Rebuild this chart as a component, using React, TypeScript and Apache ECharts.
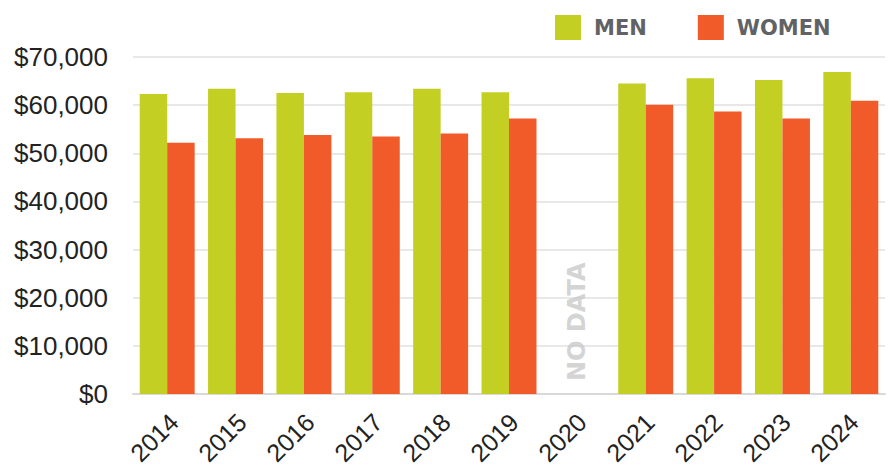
import React, { useEffect, useRef } from "react";
import * as echarts from "echarts";

const years = ["2014", "2015", "2016", "2017", "2018", "2019", "2020", "2021", "2022", "2023", "2024"];
const menValues: (number | null)[] = [62300, 63400, 62500, 62700, 63400, 62700, null, 64500, 65600, 65200, 66900];
const womenValues: (number | null)[] = [52200, 53100, 53800, 53500, 54100, 57200, null, 60100, 58700, 57200, 60900];
const noDataPoint: [string, number][] = [["2020", 15000]];
const noDataText = "NO DATA";

const MEN_COLOR = "#C3CF22";
const WOMEN_COLOR = "#F15A29";

export default function App() {
  const ref = useRef<HTMLDivElement>(null);
  useEffect(() => {
    if (!ref.current) return;
    const chart = echarts.init(ref.current, undefined, { renderer: "svg" });
    const gridCommon = { top: 57, bottom: 74, containLabel: false };
    chart.setOption({
      animation: false,
      backgroundColor: "#ffffff",
      legend: {
        left: 550,
        top: 10,
        itemWidth: 26,
        itemHeight: 25,
        itemGap: 51,
        icon: "rect",
        data: ["MEN", "WOMEN"],
        textStyle: {
          fontFamily: "DejaVu Sans",
          fontWeight: "bold",
          fontSize: 21,
          color: "#616265",
          padding: [0, 0, 0, 8],
        },
      },
      grid: [
        { ...gridCommon, left: 133, right: 3 },
        { ...gridCommon, left: 140, right: -4 },
      ],
      xAxis: [
        {
          type: "category",
          gridIndex: 0,
          data: years,
          axisLine: { show: true, lineStyle: { color: "#d9d9d9", width: 2 } },
          axisTick: { show: false },
          axisLabel: { show: false },
        },
        {
          type: "category",
          gridIndex: 1,
          data: years,
          axisLine: { show: false },
          axisTick: { show: false },
          axisLabel: {
            rotate: 45,
            margin: 28,
            fontFamily: "Liberation Sans, Arial",
            fontSize: 25,
            color: "#222222",
          },
        },
      ],
      yAxis: [
        {
          type: "value",
          gridIndex: 0,
          min: 0,
          max: 70000,
          interval: 10000,
          axisLine: { show: false },
          axisTick: { show: false },
          splitLine: { lineStyle: { color: "#e0e0e0", width: 1.5 } },
          axisLabel: {
            margin: 25,
            fontFamily: "Liberation Sans, Arial",
            fontSize: 26,
            color: "#222222",
            formatter: (v: number) => "$" + v.toLocaleString("en-US"),
          },
        },
        { type: "value", gridIndex: 1, show: false, min: 0, max: 70000 },
      ],
      series: [
        {
          name: "MEN",
          type: "bar",
          xAxisIndex: 0,
          yAxisIndex: 0,
          data: menValues,
          barGap: "0%",
          barCategoryGap: "19.6%",
          itemStyle: { color: MEN_COLOR },
        },
        {
          name: "WOMEN",
          type: "bar",
          xAxisIndex: 0,
          yAxisIndex: 0,
          data: womenValues,
          barGap: "0%",
          barCategoryGap: "19.6%",
          itemStyle: { color: WOMEN_COLOR },
        },
        {
          name: "nodata",
          type: "scatter",
          xAxisIndex: 0,
          yAxisIndex: 0,
          data: noDataPoint,
          symbolSize: 0,
          silent: true,
          label: {
            show: true,
            position: "inside",
            rotate: 90,
            formatter: noDataText,
            fontFamily: "DejaVu Sans",
            fontWeight: "bold",
            fontSize: 24,
            color: "#c9c9c9",
            align: "center",
            verticalAlign: "middle",
          },
        },
      ],
    });
    return () => chart.dispose();
  }, []);
  return (
    <div
      ref={ref}
      style={{ position: "absolute", left: 0, top: 0, width: 888, height: 468 }}
    />
  );
}
